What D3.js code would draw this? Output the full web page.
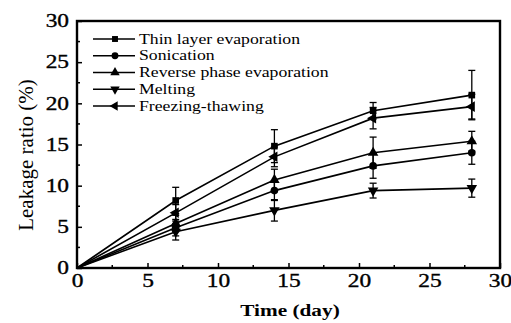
<!DOCTYPE html>
<html>
<head>
<meta charset="utf-8">
<script src="https://cdn.jsdelivr.net/npm/d3@7"></script>
<style>
  body { margin: 0; background: #fff; }
</style>
</head>
<body>
<div id="chart"></div>
<script>
// data
var days = [0, 7, 14, 21, 28];
var seriesNames = ["Thin layer evaporation", "Sonication", "Reverse phase evaporation", "Melting", "Freezing-thawing"];
var thinLayer = [0, 8.2, 14.8, 19.1, 21.0];
var thinLayerErr = [0, 1.6, 2.0, 1.0, 3.0];
var sonication = [0, 4.9, 9.4, 12.4, 14.0];
var sonicationErr = [0, 1.0, 1.2, 1.5, 1.4];
var reversePhase = [0, 5.4, 10.7, 14.0, 15.4];
var reversePhaseErr = [0, 1.0, 1.3, 1.9, 1.2];
var melting = [0, 4.4, 7.0, 9.4, 9.7];
var meltingErr = [0, 1.0, 1.3, 0.9, 1.1];
var freezing = [0, 6.7, 13.5, 18.2, 19.6];
var freezingErr = [0, 1.0, 1.2, 1.3, 1.5];
var xTicks = [0, 5, 10, 15, 20, 25, 30];
var yTicks = [0, 5, 10, 15, 20, 25, 30];

var width = 511, height = 323;
var plotLeft = 77, plotRight = 500, plotTop = 21, plotBottom = 268;
var serif = "'Liberation Serif', 'Times New Roman', serif";

var svg = d3.select("#chart").append("svg")
    .attr("width", width)
    .attr("height", height);

var x = d3.scaleLinear().domain([0, 30]).range([plotLeft, plotRight]);
var y = d3.scaleLinear().domain([0, 30]).range([plotBottom, plotTop]);

var series = [
    { name: seriesNames[0], vals: thinLayer, err: thinLayerErr, shape: "square" },
    { name: seriesNames[1], vals: sonication, err: sonicationErr, shape: "circle" },
    { name: seriesNames[2], vals: reversePhase, err: reversePhaseErr, shape: "up" },
    { name: seriesNames[3], vals: melting, err: meltingErr, shape: "down" },
    { name: seriesNames[4], vals: freezing, err: freezingErr, shape: "left" }
];

function marker(g, shape, cx, cy, k) {
    var sym, rot = 0;
    k = k || 1;
    if (shape == "square") sym = d3.symbol().type(d3.symbolSquare).size(44 * k);
    else if (shape == "circle") sym = d3.symbol().type(d3.symbolCircle).size(46 * k);
    else {
        sym = d3.symbol().type(d3.symbolTriangle).size(48 * k);
        if (shape == "down") rot = 180;
        if (shape == "left") rot = -90;
    }
    g.append("path")
        .attr("d", sym())
        .attr("transform", "translate(" + cx + "," + cy + ") rotate(" + rot + ")")
        .attr("fill", "#000");
}

// x axis (ticks inward)
var xAxis = d3.axisBottom(x).tickValues(xTicks).tickSize(-5).tickPadding(6);
var gx = svg.append("g").attr("transform", "translate(0," + plotBottom + ")").call(xAxis);
gx.select(".domain").remove();
gx.selectAll("text")
    .style("font-family", serif).style("font-size", "18px")
    .attr("fill", "#000").attr("stroke", "#000").attr("stroke-width", 0.35)
    .attr("transform", "scale(1.3,1)");
gx.selectAll("line").attr("stroke-width", 1.5);
gx.selectAll(".minor").data(d3.range(2.5, 30, 5)).enter().append("line")
    .attr("x1", function(d) { return x(d); }).attr("x2", function(d) { return x(d); })
    .attr("y1", 0).attr("y2", -3).attr("stroke", "#000").attr("stroke-width", 1.5);

// y axis (ticks inward)
var yAxis = d3.axisLeft(y).tickValues(yTicks).tickSize(-5);
var gy = svg.append("g").attr("transform", "translate(" + plotLeft + ",0)").call(yAxis);
gy.select(".domain").remove();
gy.selectAll("text")
    .style("font-family", serif).style("font-size", "18px")
    .attr("fill", "#000").attr("stroke", "#000").attr("stroke-width", 0.35)
    .attr("x", -8 / 1.3)
    .attr("transform", "scale(1.3,1)");
gy.selectAll("line").attr("stroke-width", 1.5);
gy.selectAll(".minor").data(d3.range(2.5, 30, 5)).enter().append("line")
    .attr("y1", function(d) { return y(d); }).attr("y2", function(d) { return y(d); })
    .attr("x1", 0).attr("x2", 3).attr("stroke", "#000").attr("stroke-width", 1.5);

// frame
svg.append("rect")
    .attr("x", plotLeft).attr("y", plotTop)
    .attr("width", plotRight - plotLeft).attr("height", plotBottom - plotTop)
    .attr("fill", "none").attr("stroke", "#000").attr("stroke-width", 2.4);

// lines, error bars, markers
var line = d3.line()
    .x(function(d, i) { return x(days[i]); })
    .y(function(d) { return y(d); });

series.forEach(function(s) {
    var g = svg.append("g");
    g.append("path").attr("d", line(s.vals))
        .attr("fill", "none").attr("stroke", "#000").attr("stroke-width", 1.6);
    s.vals.forEach(function(v, i) {
        if (i == 0) return;
        var cx = x(days[i]);
        var e = s.err[i];
        g.append("line").attr("x1", cx).attr("x2", cx)
            .attr("y1", y(v - e)).attr("y2", y(v + e))
            .attr("stroke", "#000").attr("stroke-width", 1.3);
        [v - e, v + e].forEach(function(c) {
            g.append("line").attr("x1", cx - 3.5).attr("x2", cx + 3.5)
                .attr("y1", y(c)).attr("y2", y(c))
                .attr("stroke", "#000").attr("stroke-width", 1.3);
        });
        marker(g, s.shape, cx, y(v));
    });
});

// legend
var legend = svg.append("g");
series.forEach(function(s, i) {
    var ly = 39 + i * 16.75;
    legend.append("line").attr("x1", 93).attr("x2", 135)
        .attr("y1", ly).attr("y2", ly)
        .attr("stroke", "#000").attr("stroke-width", 1.6);
    marker(legend, s.shape, 115, ly, 0.8);
    legend.append("text")
        .attr("transform", "translate(139," + (ly + 4.5) + ") scale(1.18,1)")
        .style("font-family", serif).style("font-size", "15px")
        .text(s.name);
});

// axis titles
svg.append("text")
    .attr("transform", "translate(290,316) scale(1.33,1)")
    .attr("text-anchor", "middle")
    .style("font-family", serif).style("font-size", "16px").style("font-weight", "bold")
    .text("Time (day)");

svg.append("text")
    .attr("transform", "translate(33,155) rotate(-90)")
    .attr("text-anchor", "middle")
    .style("font-family", serif).style("font-size", "21px")
    .text("Leakage ratio (%)");
</script>
</body>
</html>
